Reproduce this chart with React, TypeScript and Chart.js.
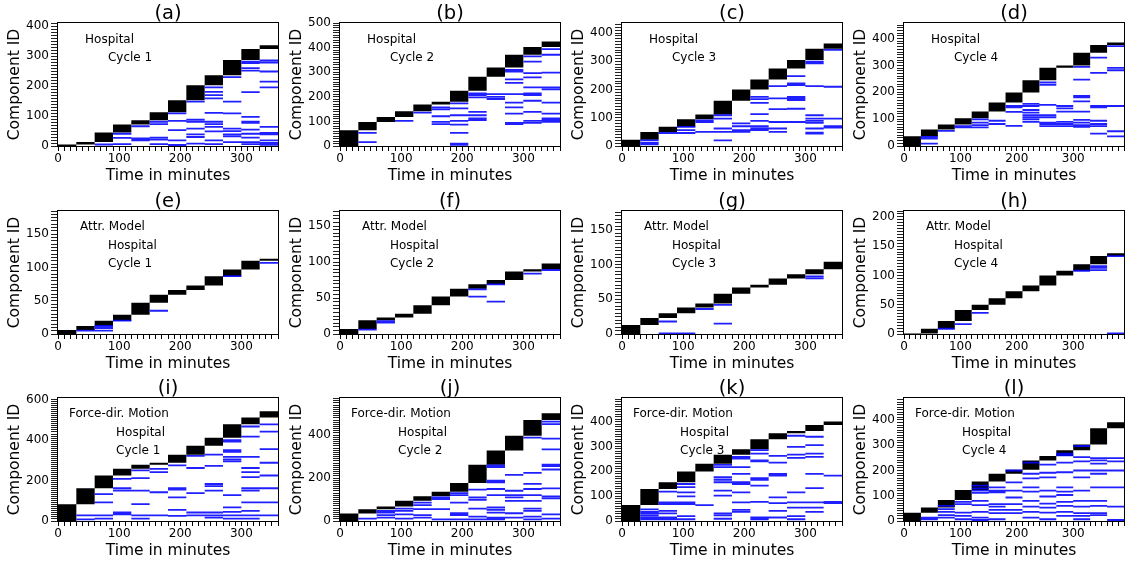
import React, { useEffect, useRef } from 'react';
import { Chart, registerables } from 'chart.js';

Chart.register(...registerables);
Chart.defaults.font.family = "'DejaVu Sans', sans-serif";
Chart.defaults.color = '#000';

// ---------- data ----------
const windowMinutes = 30;
const panelLetters = ['a', 'b', 'c', 'd', 'e', 'f', 'g', 'h', 'i', 'j', 'k', 'l'];
const rowNotes = [['Hospital'], ['Attr. Model', 'Hospital'], ['Force-dir. Motion', 'Hospital']];
const yAxisMax = [411, 500, 436, 458, 185, 171, 177, 210, 608, 573, 495, 487];
const yLabelStep = [100, 100, 100, 100, 50, 50, 50, 50, 200, 200, 100, 100];
const yTickStep = [10, 10, 10, 10, 5, 5, 5, 5, 10, 10, 10, 10];

// cumulative component count at the end of each 30-minute window (black blocks)
const topsA = [5, 13, 45, 72, 86, 113, 153, 203, 236, 287, 324, 337];
const topsB = [64, 98, 118, 141, 169, 180, 225, 282, 319, 371, 402, 425];
const topsC = [22, 50, 68, 95, 112, 160, 200, 236, 275, 305, 345, 363];
const topsD = [36, 61, 80, 103, 128, 162, 199, 245, 291, 300, 347, 376, 385];
const topsE = [6, 12, 20, 29, 47, 59, 66, 73, 87, 97, 110, 113];
const topsF = [7, 19, 23, 28, 40, 52, 63, 69, 75, 87, 90, 98];
const topsG = [13, 23, 30, 38, 44, 58, 67, 71, 80, 86, 93, 104];
const topsH = [1, 9, 22, 41, 50, 61, 73, 83, 100, 108, 119, 133, 138];
const topsI = [83, 162, 225, 258, 278, 288, 328, 372, 412, 478, 512, 542];
const topsJ = [35, 55, 67, 94, 115, 136, 177, 262, 328, 397, 471, 502];
const topsK = [64, 129, 156, 199, 230, 267, 289, 329, 353, 362, 386, 400];
const topsL = [33, 53, 83, 123, 156, 187, 203, 240, 257, 280, 303, 367, 391];

// IDs of older components active again in each window (blue lines)
const linesA = [
  [], [], [5], [41, 27, 6], [66, 25, 19], [81, 73, 28, 21, 6],
  [109, 84, 53, 19, 4, 2], [148, 88, 81, 58, 39, 30, 8],
  [196, 181, 170, 159, 111, 81, 73, 64, 49, 19, 6],
  [230, 148, 109, 58, 50, 39, 32, 13],
  [282, 277, 260, 252, 180, 97, 81, 77, 55, 41, 28, 13, 6],
  [286, 279, 249, 215, 196, 64, 44, 39, 19, 10, 4],
];
const linesB = [
  [], [53, 16], [], [102], [136], [157, 149, 121, 98, 89],
  [173, 153, 125, 102, 87, 53, 10, 5], [214, 207, 198, 139, 125, 112, 105],
  [211, 200, 191], [309, 302, 271, 257, 211, 176, 157, 132, 94, 89],
  [364, 343, 296, 279, 238, 214, 207, 184, 139, 102, 94],
  [394, 371, 298, 238, 230, 176, 132, 112, 105, 98],
];
const linesC = [
  [], [20, 11, 6], [46], [68, 56, 46], [91, 85, 50], [109, 97, 62, 50, 20],
  [80, 70, 56, 50], [174, 166, 153, 113, 89, 70, 62, 56],
  [212, 169, 131, 85, 62, 50], [248, 222, 216, 174, 169, 163, 132, 85],
  [299, 293, 212, 109, 97, 89, 82, 62, 47, 44], [341, 210, 97, 70, 65],
];
const linesD = [
  [], [34, 28, 9], [56], [74, 69], [99, 87, 78, 69], [94, 82],
  [149, 144, 127, 75], [157, 149, 134, 124, 115, 107, 99, 90],
  [237, 228, 153, 115, 107, 87, 82, 74], [149, 140, 128, 90, 82, 74],
  [295, 247, 187, 181, 166, 128, 97, 87, 78, 71],
  [329, 272, 149, 144, 94, 82, 74, 46], [372, 291, 282, 149, 55, 36],
];
const linesE = [[], [5], [12, 9, 5], [20], [], [35], [], [], [], [87], [], [107]];
const linesF = [[], [6], [16, 18], [], [], [], [], [62, 52], [69, 45], [], [84], [89]];
const linesG = [[], [], [18, 1], [1], [36], [42, 15], [], [], [], [], [83, 80], []];
const linesH = [[], [], [9], [17], [36], [], [], [], [], [], [108], [116, 113, 109], [133, 1]];
const linesI = [
  [], [28, 8], [133, 92, 28, 12], [208, 162, 150, 42, 33],
  [250, 212, 150, 83, 28, 12], [258, 242, 142, 28],
  [275, 162, 155, 117, 55, 25], [322, 262, 138, 42, 28],
  [328, 272, 183, 172, 150, 42, 28, 17],
  [400, 392, 350, 342, 317, 305, 295, 128, 67, 45, 28, 12],
  [467, 417, 317, 262, 242, 217, 162, 150, 92, 50, 28, 12],
  [478, 442, 355, 288, 225, 162, 92, 28],
];
const linesJ = [
  [], [11], [47, 39, 27, 16], [58, 47, 31, 11], [86, 74, 55, 27, 16],
  [110, 102, 55, 8], [130, 121, 86, 36, 27, 8], [146, 110, 99, 58, 20, 8],
  [259, 251, 188, 180, 149, 121, 63, 52, 39, 16, 8],
  [215, 141, 121, 110, 94, 36, 16],
  [388, 224, 173, 149, 121, 94, 58, 47, 20, 8],
  [463, 451, 384, 334, 262, 256, 240, 152, 115, 105, 31, 11],
];
const linesK = [
  [], [47, 37, 31, 23, 14, 7], [118, 75, 68, 41, 31, 14, 7],
  [149, 136, 115, 99, 75, 68, 20, 7], [64],
  [226, 217, 176, 166, 156, 122, 102, 31, 23, 9],
  [258, 251, 217, 190, 156, 149, 115, 75, 45, 37],
  [285, 271, 244, 240, 172, 166, 142, 77, 14, 7],
  [262, 235, 190, 183, 95, 72, 41, 14],
  [343, 298, 267, 254, 115, 75, 54, 20, 7],
  [339, 305, 271, 258, 190, 132, 75, 54, 37], [183, 77, 72],
];
const linesL = [
  [], [13, 7], [60, 47, 36, 23, 13], [76, 67, 33, 20, 7],
  [140, 129, 120, 111, 80, 63, 36, 13, 4], [133, 120, 113, 67, 57, 44, 31, 7],
  [200, 153, 120, 93, 67, 44, 31], [231, 187, 169, 133, 116, 80, 57, 36, 13],
  [223, 191, 173, 120, 97, 69, 53, 33, 7],
  [267, 260, 231, 193, 133, 116, 103, 76, 60, 36, 20],
  [297, 253, 236, 200, 173, 120, 80, 57, 31, 20, 7],
  [249, 240, 227, 200, 187, 133, 80, 60, 31, 23], [249, 236, 200, 133, 57, 4],
];

const allTops = [topsA, topsB, topsC, topsD, topsE, topsF, topsG, topsH, topsI, topsJ, topsK, topsL];
const allLines = [linesA, linesB, linesC, linesD, linesE, linesF, linesG, linesH, linesI, linesJ, linesK, linesL];

// ---------- layout ----------
const CW = 282;
const CH = 187;
const PLOT_LEFT = 58;
const PLOT_TOP = 23;
const PLOT_BOTTOM = 146;
const colLeft = [0, 282, 564, 846];
const rowTop = [0, 188, 375];
const notePos = [
  [[0.123, 0.862], [0.227, 0.715]],
  [[0.10, 0.872], [0.227, 0.72], [0.227, 0.572]],
  [[0.05, 0.87], [0.264, 0.72], [0.264, 0.574]],
];

function Panel({ idx }: { idx: number }) {
  const ref = useRef<HTMLCanvasElement>(null);
  useEffect(() => {
    const row = Math.floor(idx / 4);
    const col = idx % 4;
    const tops = allTops[idx];
    const lines = allLines[idx];
    const n = tops.length;
    const xMax = n * windowMinutes;
    // staircase of block tops and block bottoms (stepped lines, filled between)
    const upper = tops.map((t, i) => ({ x: i * windowMinutes, y: t }));
    upper.push({ x: xMax, y: tops[n - 1] });
    const lower = tops.map((_, i) => ({ x: i * windowMinutes, y: i === 0 ? 0 : tops[i - 1] }));
    lower.push({ x: xMax, y: tops[n - 2] });
    const seg: any[] = [];
    lines.forEach((ys, i) => {
      ys.forEach((y) => {
        seg.push({ x: i * windowMinutes, y });
        seg.push({ x: (i + 1) * windowMinutes, y });
        seg.push({ x: (i + 1) * windowMinutes, y: null });
      });
    });
    const texts = [...rowNotes[row], 'Cycle ' + (col + 1)];
    const pos = notePos[row];
    const title = '(' + panelLetters[idx] + ')';
    const ls = yLabelStep[idx];

    const decor = {
      id: 'decor' + idx,
      afterDraw(chart: any) {
        const { ctx, chartArea } = chart;
        const { left, top, right, bottom } = chartArea;
        ctx.save();
        ctx.strokeStyle = '#000';
        ctx.lineWidth = 1;
        ctx.strokeRect(Math.round(left) - 0.5, Math.round(top) - 0.5, Math.round(right - left) + 1, Math.round(bottom - top) + 1);
        ctx.fillStyle = '#000';
        ctx.textAlign = 'center';
        ctx.textBaseline = 'middle';
        ctx.font = "19.5px 'DejaVu Sans', sans-serif";
        ctx.fillText(title, (left + right) / 2, top - 9.5);
        ctx.textAlign = 'left';
        ctx.font = "12px 'DejaVu Sans', sans-serif";
        texts.forEach((t, k) => {
          const [fx, fy] = pos[k];
          ctx.fillText(t, left + fx * (right - left), bottom - fy * (bottom - top));
        });
        ctx.restore();
      },
    };

    const chart = new Chart(ref.current as HTMLCanvasElement, {
      type: 'line',
      data: {
        datasets: [
          {
            label: 'recurring components',
            data: seg,
            borderColor: 'rgba(0,0,255,0.88)',
            borderWidth: 1.8,
            pointRadius: 0,
            spanGaps: false,
            fill: false,
            order: 0,
          } as any,
          {
            label: 'new components',
            data: upper,
            stepped: true,
            borderWidth: 0,
            borderColor: 'rgba(0,0,0,0)',
            backgroundColor: '#000',
            pointRadius: 0,
            fill: '+1',
            order: 1,
          } as any,
          {
            label: 'block base',
            data: lower,
            stepped: true,
            borderWidth: 0,
            borderColor: 'rgba(0,0,0,0)',
            backgroundColor: '#000',
            pointRadius: 0,
            fill: false,
            order: 2,
          } as any,
        ],
      },
      options: {
        responsive: false,
        animation: false,
        devicePixelRatio: 1,
        layout: { padding: { top: PLOT_TOP, left: 0, right: 4, bottom: 0 } },
        plugins: { legend: { display: false }, tooltip: { enabled: false }, title: { display: false } },
        scales: {
          x: {
            type: 'linear',
            position: 'bottom',
            min: 0,
            max: xMax,
            offset: false,
            ticks: {
              stepSize: 10,
              autoSkip: false,
              includeBounds: false,
              maxRotation: 0,
              minRotation: 0,
              padding: 1,
              font: { size: 12 },
              color: '#000',
              callback: (v: any) => (Number(v) % 100 === 0 ? String(v) : ''),
            },
            grid: { offset: false, drawOnChartArea: false, drawTicks: true, tickLength: 5, color: '#000', lineWidth: 1 },
            border: { display: false },
            title: { display: true, text: 'Time in minutes', font: { size: 15.5 }, color: '#000', padding: { top: 0, bottom: 2 } },
            afterFit: (s: any) => { s.height = CH - PLOT_BOTTOM; },
          },
          y: {
            type: 'linear',
            position: 'left',
            min: 0,
            max: yAxisMax[idx],
            ticks: {
              stepSize: yTickStep[idx],
              autoSkip: false,
              includeBounds: false,
              padding: 2,
              font: { size: 12 },
              color: '#000',
              callback: (v: any) => (Number(v) % ls === 0 ? String(v) : ''),
            },
            grid: { drawOnChartArea: false, drawTicks: true, tickLength: 7, color: '#222', lineWidth: 1 },
            border: { display: false },
            title: { display: true, text: 'Component ID', font: { size: 15.5 }, color: '#000', padding: { top: 6, bottom: 0 } },
            afterFit: (s: any) => { s.width = PLOT_LEFT; },
          },
        } as any,
      },
      plugins: [decor],
    });
    return () => chart.destroy();
  }, [idx]);

  const row = Math.floor(idx / 4);
  const col = idx % 4;
  return (
    <canvas
      ref={ref}
      width={CW}
      height={CH}
      style={{ position: 'absolute', left: colLeft[col], top: rowTop[row], width: CW, height: CH }}
    />
  );
}

export default function App() {
  return (
    <div style={{ position: 'absolute', left: 0, top: 0, width: 1129, height: 565, background: '#fff', overflow: 'hidden' }}>
      {panelLetters.map((_, i) => (
        <Panel key={i} idx={i} />
      ))}
    </div>
  );
}
